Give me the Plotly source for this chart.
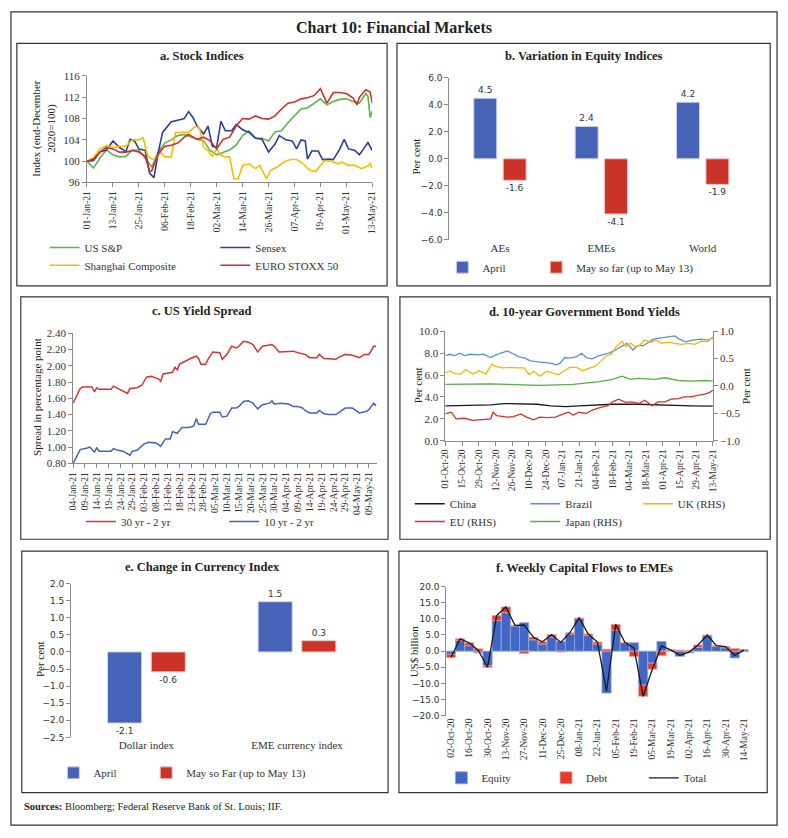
import plotly.graph_objects as go

W, H = 788, 838
SERIF = "Liberation Serif"
SANS = "DejaVu Sans"

# ---------------- data ----------------
# a. Stock Indices (end-December 2020 = 100)
sp_dates = ["2021-01-01","2021-01-04","2021-01-07","2021-01-10","2021-01-13","2021-01-16","2021-01-19","2021-01-22","2021-01-25","2021-01-28","2021-01-31","2021-02-03","2021-02-06","2021-02-09","2021-02-12","2021-02-15","2021-02-18","2021-02-21","2021-02-24","2021-02-27","2021-03-02","2021-03-05","2021-03-08","2021-03-11","2021-03-14","2021-03-17","2021-03-20","2021-03-23","2021-03-26","2021-03-29","2021-04-01","2021-04-04","2021-04-07","2021-04-10","2021-04-13","2021-04-16","2021-04-19","2021-04-22","2021-04-25","2021-04-28","2021-05-01","2021-05-04","2021-05-07","2021-05-10","2021-05-11","2021-05-12","2021-05-13"]
sp_vals = [100.0,98.7,100.6,102.1,101.2,100.8,100.9,102.1,102.1,100.4,98.9,101.8,103.4,104.0,104.8,105.0,104.5,104.1,103.8,102.0,101.2,101.7,102.1,103.0,104.8,105.7,104.3,104.3,103.8,105.5,105.7,107.2,108.6,109.8,110.0,110.9,111.7,110.6,111.2,111.6,111.7,111.2,110.9,112.7,112.2,108.2,109.4]

sx_dates = ["2021-01-01","2021-01-04","2021-01-07","2021-01-10","2021-01-13","2021-01-16","2021-01-19","2021-01-21","2021-01-23","2021-01-25","2021-01-28","2021-01-30","2021-02-01","2021-02-03","2021-02-05","2021-02-07","2021-02-09","2021-02-12","2021-02-15","2021-02-17","2021-02-19","2021-02-21","2021-02-24","2021-02-26","2021-02-28","2021-03-02","2021-03-04","2021-03-06","2021-03-09","2021-03-11","2021-03-14","2021-03-17","2021-03-20","2021-03-23","2021-03-26","2021-03-29","2021-03-31","2021-04-03","2021-04-06","2021-04-08","2021-04-10","2021-04-12","2021-04-13","2021-04-15","2021-04-18","2021-04-20","2021-04-23","2021-04-25","2021-04-28","2021-04-30","2021-05-02","2021-05-05","2021-05-07","2021-05-09","2021-05-11","2021-05-13"]
sx_vals = [100.0,100.1,101.7,102.1,103.8,102.6,101.8,104.1,103.8,102.3,102.0,97.7,96.9,101.7,105.4,106.3,107.4,107.7,108.0,109.3,108.2,106.6,105.1,106.6,102.8,102.6,107.5,105.7,105.7,106.9,105.9,105.4,104.3,104.1,101.7,103.2,104.8,104.0,103.8,102.3,104.0,103.8,100.4,101.9,101.9,100.3,100.4,100.3,102.3,104.1,102.3,102.0,101.2,102.3,103.5,102.0]

sh_dates = ["2021-01-01","2021-01-04","2021-01-07","2021-01-10","2021-01-13","2021-01-16","2021-01-19","2021-01-22","2021-01-25","2021-01-27","2021-01-29","2021-01-31","2021-02-02","2021-02-04","2021-02-06","2021-02-09","2021-02-11","2021-02-14","2021-02-17","2021-02-20","2021-02-22","2021-02-24","2021-02-26","2021-02-28","2021-03-02","2021-03-04","2021-03-06","2021-03-08","2021-03-10","2021-03-12","2021-03-14","2021-03-17","2021-03-20","2021-03-22","2021-03-25","2021-03-27","2021-03-30","2021-04-02","2021-04-05","2021-04-08","2021-04-11","2021-04-14","2021-04-17","2021-04-19","2021-04-21","2021-04-24","2021-04-27","2021-04-29","2021-05-02","2021-05-05","2021-05-08","2021-05-11","2021-05-12","2021-05-13"]
sh_vals = [100.0,100.6,102.3,102.9,102.6,102.8,102.8,104.0,104.0,104.4,101.1,100.4,100.4,101.7,100.8,100.8,105.4,105.4,105.4,106.5,106.3,102.6,102.0,100.9,102.3,101.1,100.8,100.8,96.7,96.7,99.2,99.5,98.6,99.2,96.7,98.3,98.9,99.8,100.3,100.3,99.5,98.3,98.1,99.2,100.1,100.0,99.5,99.8,99.2,99.2,98.6,99.1,99.6,98.7]

es_dates = ["2021-01-01","2021-01-04","2021-01-07","2021-01-10","2021-01-13","2021-01-16","2021-01-19","2021-01-22","2021-01-25","2021-01-28","2021-01-30","2021-01-31","2021-02-03","2021-02-06","2021-02-09","2021-02-12","2021-02-15","2021-02-17","2021-02-18","2021-02-21","2021-02-24","2021-02-27","2021-03-02","2021-03-05","2021-03-08","2021-03-11","2021-03-14","2021-03-17","2021-03-20","2021-03-23","2021-03-26","2021-03-29","2021-04-01","2021-04-04","2021-04-07","2021-04-10","2021-04-13","2021-04-16","2021-04-19","2021-04-22","2021-04-25","2021-04-28","2021-05-01","2021-05-04","2021-05-06","2021-05-07","2021-05-10","2021-05-12","2021-05-13"]
es_vals = [100.0,100.4,101.7,102.6,102.3,101.7,101.7,102.0,101.7,100.9,98.0,98.2,101.4,102.8,103.0,103.4,104.5,105.0,104.8,104.1,104.5,103.8,102.3,104.1,104.5,106.6,108.0,107.9,108.5,108.0,107.9,108.5,109.8,110.9,111.1,111.7,111.9,112.3,113.6,110.9,112.9,112.9,112.7,111.9,110.6,112.0,113.4,113.0,110.9]

# b. Variation in Equity Indices (per cent)
eq_regions = ["AEs", "EMEs", "World"]
eq_april = [4.5, 2.4, 4.2]
eq_may = [-1.6, -4.1, -1.9]

# c. US Yield Spread (percentage point)
s30_dates = ["2021-01-04","2021-01-07","2021-01-08","2021-01-12","2021-01-13","2021-01-14","2021-01-15","2021-01-20","2021-01-21","2021-01-23","2021-01-25","2021-01-27","2021-01-28","2021-01-31","2021-02-02","2021-02-04","2021-02-06","2021-02-09","2021-02-10","2021-02-11","2021-02-15","2021-02-16","2021-02-17","2021-02-18","2021-02-22","2021-02-25","2021-02-26","2021-02-27","2021-03-01","2021-03-02","2021-03-04","2021-03-07","2021-03-08","2021-03-10","2021-03-12","2021-03-14","2021-03-15","2021-03-17","2021-03-19","2021-03-21","2021-03-23","2021-03-25","2021-03-29","2021-03-30","2021-04-01","2021-04-07","2021-04-09","2021-04-12","2021-04-14","2021-04-17","2021-04-18","2021-04-20","2021-04-25","2021-04-26","2021-04-29","2021-05-02","2021-05-05","2021-05-07","2021-05-09","2021-05-11","2021-05-12"]
s30_vals = [1.54,1.72,1.74,1.74,1.68,1.73,1.71,1.71,1.75,1.72,1.70,1.66,1.72,1.73,1.76,1.86,1.87,1.84,1.81,1.90,1.92,1.98,1.95,2.02,2.08,2.12,2.09,2.02,2.02,2.08,2.17,2.16,2.08,2.14,2.24,2.22,2.24,2.30,2.29,2.26,2.17,2.24,2.26,2.24,2.17,2.18,2.16,2.14,2.10,2.10,2.14,2.09,2.08,2.10,2.14,2.13,2.10,2.14,2.14,2.24,2.24]
s10_dates = ["2021-01-04","2021-01-06","2021-01-07","2021-01-10","2021-01-11","2021-01-13","2021-01-14","2021-01-15","2021-01-20","2021-01-21","2021-01-23","2021-01-25","2021-01-27","2021-01-28","2021-01-29","2021-01-31","2021-02-03","2021-02-05","2021-02-08","2021-02-10","2021-02-12","2021-02-14","2021-02-15","2021-02-17","2021-02-19","2021-02-22","2021-02-24","2021-02-25","2021-02-26","2021-03-01","2021-03-03","2021-03-04","2021-03-07","2021-03-08","2021-03-10","2021-03-12","2021-03-14","2021-03-15","2021-03-17","2021-03-19","2021-03-21","2021-03-23","2021-03-25","2021-03-28","2021-03-29","2021-03-30","2021-04-02","2021-04-05","2021-04-07","2021-04-09","2021-04-11","2021-04-12","2021-04-14","2021-04-17","2021-04-18","2021-04-20","2021-04-22","2021-04-25","2021-04-27","2021-04-29","2021-05-02","2021-05-04","2021-05-05","2021-05-08","2021-05-09","2021-05-11","2021-05-12"]
s10_vals = [0.80,0.92,0.97,0.99,1.00,0.94,0.99,0.95,0.95,0.98,0.96,0.95,0.91,0.90,0.95,0.96,1.04,1.06,1.05,1.01,1.10,1.10,1.19,1.17,1.24,1.24,1.26,1.35,1.28,1.28,1.41,1.43,1.43,1.37,1.38,1.48,1.48,1.50,1.56,1.57,1.54,1.47,1.52,1.54,1.57,1.53,1.54,1.53,1.50,1.50,1.48,1.45,1.42,1.42,1.45,1.41,1.40,1.40,1.44,1.48,1.48,1.44,1.42,1.44,1.46,1.54,1.51]

# d. 10-year Government Bond Yields (per cent)
cn_dates = ["2020-10-01","2020-10-25","2020-11-08","2020-11-19","2020-12-17","2020-12-28","2021-01-10","2021-01-21","2021-02-04","2021-02-18","2021-03-12","2021-03-26","2021-04-09","2021-04-25","2021-05-13"]
cn_vals = [3.18,3.24,3.27,3.39,3.33,3.18,3.12,3.18,3.24,3.33,3.33,3.27,3.21,3.18,3.15]
br_dates = ["2020-10-01","2020-10-05","2020-10-09","2020-10-13","2020-10-17","2020-10-22","2020-10-28","2020-11-02","2020-11-08","2020-11-11","2020-11-16","2020-11-22","2020-11-26","2020-12-01","2020-12-07","2020-12-11","2020-12-19","2020-12-28","2021-01-02","2021-01-05","2021-01-09","2021-01-13","2021-01-19","2021-01-23","2021-01-27","2021-02-01","2021-02-06","2021-02-11","2021-02-15","2021-02-19","2021-02-25","2021-03-02","2021-03-07","2021-03-11","2021-03-16","2021-03-20","2021-03-24","2021-03-31","2021-04-06","2021-04-11","2021-04-15","2021-04-20","2021-04-26","2021-05-03","2021-05-09","2021-05-13"]
br_vals = [7.78,7.9,7.78,7.99,7.78,7.9,7.85,7.9,7.6,7.78,7.99,8.2,7.99,7.69,7.54,7.3,7.18,7.09,6.94,7.09,7.6,7.55,7.69,7.99,7.6,7.48,7.75,7.9,8.0,8.2,8.6,8.89,8.29,8.68,8.68,8.98,9.28,9.4,9.49,9.58,9.28,9.04,9.19,9.28,9.19,9.4]
uk_dates = ["2020-10-01","2020-10-05","2020-10-10","2020-10-14","2020-10-18","2020-10-24","2020-10-29","2020-11-04","2020-11-09","2020-11-12","2020-11-18","2020-11-24","2020-11-30","2020-12-06","2020-12-10","2020-12-14","2020-12-19","2020-12-25","2021-01-01","2021-01-04","2021-01-08","2021-01-13","2021-01-19","2021-01-24","2021-01-30","2021-02-04","2021-02-08","2021-02-12","2021-02-17","2021-02-21","2021-02-26","2021-03-01","2021-03-05","2021-03-09","2021-03-13","2021-03-17","2021-03-22","2021-03-26","2021-03-31","2021-04-06","2021-04-11","2021-04-17","2021-04-22","2021-04-28","2021-05-03","2021-05-09","2021-05-13"]
uk_vals = [0.24,0.27,0.22,0.22,0.30,0.22,0.28,0.22,0.40,0.36,0.33,0.34,0.33,0.33,0.21,0.27,0.18,0.27,0.22,0.21,0.27,0.34,0.34,0.28,0.33,0.36,0.45,0.54,0.58,0.72,0.82,0.72,0.78,0.72,0.75,0.84,0.80,0.84,0.78,0.80,0.78,0.76,0.78,0.76,0.82,0.81,0.90]
eu_dates = ["2020-10-01","2020-10-06","2020-10-10","2020-10-17","2020-10-24","2020-11-01","2020-11-08","2020-11-10","2020-11-13","2020-11-22","2020-11-27","2020-12-03","2020-12-08","2020-12-14","2020-12-19","2020-12-25","2021-01-01","2021-01-08","2021-01-12","2021-01-16","2021-01-21","2021-01-27","2021-02-01","2021-02-08","2021-02-14","2021-02-18","2021-02-23","2021-03-01","2021-03-06","2021-03-12","2021-03-17","2021-03-23","2021-03-28","2021-04-03","2021-04-08","2021-04-14","2021-04-19","2021-04-25","2021-04-30","2021-05-06","2021-05-10","2021-05-13"]
eu_vals = [-0.51,-0.48,-0.60,-0.59,-0.63,-0.62,-0.60,-0.48,-0.54,-0.57,-0.56,-0.51,-0.57,-0.62,-0.57,-0.58,-0.57,-0.51,-0.48,-0.53,-0.48,-0.50,-0.44,-0.39,-0.36,-0.29,-0.24,-0.30,-0.29,-0.32,-0.26,-0.36,-0.29,-0.29,-0.24,-0.23,-0.20,-0.20,-0.17,-0.15,-0.12,-0.08]
jp_dates = ["2020-10-01","2020-10-25","2020-11-08","2020-11-22","2020-12-19","2021-01-16","2021-02-07","2021-02-18","2021-02-26","2021-03-05","2021-03-12","2021-03-26","2021-04-03","2021-04-14","2021-04-25","2021-05-06","2021-05-13"]
jp_vals = [0.03,0.04,0.04,0.03,0.01,0.03,0.08,0.12,0.18,0.12,0.14,0.12,0.15,0.10,0.09,0.10,0.09]

# e. Change in Currency Index (per cent)
cur_names = ["Dollar index", "EME currency index"]
cur_april = [-2.08, 1.47]
cur_may = [-0.58, 0.33]

# f. Weekly Capital Flows to EMEs (US$ billion)
weeks = ["02-Oct-20","09-Oct-20","16-Oct-20","23-Oct-20","30-Oct-20","06-Nov-20","13-Nov-20","20-Nov-20","27-Nov-20","04-Dec-20","11-Dec-20","18-Dec-20","25-Dec-20","01-Jan-21","08-Jan-21","15-Jan-21","22-Jan-21","29-Jan-21","05-Feb-21","12-Feb-21","19-Feb-21","26-Feb-21","05-Mar-21","12-Mar-21","19-Mar-21","26-Mar-21","02-Apr-21","09-Apr-21","16-Apr-21","23-Apr-21","30-Apr-21","07-May-21","14-May-21"]
equity = [-1.0,3.3,1.7,-0.5,-4.5,9.5,11.9,7.8,8.8,3.5,2.2,4.3,3.0,5.3,10.1,4.8,2.2,-13.0,6.5,2.6,2.6,-10.5,-3.7,3.0,0.3,-1.6,-0.5,1.2,4.8,1.5,1.0,-2.1,0.5]
debt = [-1.0,0.5,0.9,0.7,-0.5,1.5,1.8,0.2,-0.7,0.8,0.7,0.8,-0.3,0.4,0.2,0.5,0.6,0.6,1.8,0.1,-1.7,-3.5,-1.9,-1.4,0.1,0.3,0.2,0.7,0.2,0.2,0.4,0.8,-0.2]

# ---------------- colours ----------------
C_BLUE_BAR, C_RED_BAR = "#4663B8", "#CB3329"
C_EQ, C_DEBT = "#4266C4", "#E8392F"
AX = "#8a8a8a"
TXT = "#333333"


def fx(p):
    return p / W


def fy(p):
    return 1 - p / H


def zero_pos(dom, rng):
    return dom[0] + (0 - rng[0]) / (rng[1] - rng[0]) * (dom[1] - dom[0])


def ax(**kw):
    d = dict(showgrid=False, zeroline=False, showline=True, linecolor=AX, linewidth=1,
             ticks="outside", tickcolor=AX, ticklen=4,
             tickfont=dict(family=SERIF, size=11, color=TXT))
    d.update(kw)
    return d


# legend text anchor points (pixel x where text starts, pixel y of row centre)
legend_pos = []
fig = go.Figure()


def add(trace, text_x, row_y):
    legend_pos.append((text_x, row_y))
    n = len(legend_pos)
    trace.legend = "legend" if n == 1 else "legend%d" % n
    fig.add_trace(trace)


# ---- a
add(go.Scatter(x=sp_dates, y=sp_vals, name="US S&P", mode="lines", line=dict(color="#5CB547", width=1.6),
               xaxis="x", yaxis="y"), 90, 245)
add(go.Scatter(x=sx_dates, y=sx_vals, name="Sensex", mode="lines", line=dict(color="#2B3F96", width=1.6),
               xaxis="x", yaxis="y"), 263, 245)
add(go.Scatter(x=sh_dates, y=sh_vals, name="Shanghai Composite", mode="lines", line=dict(color="#F6BE00", width=1.6),
               xaxis="x", yaxis="y"), 90, 263)
add(go.Scatter(x=es_dates, y=es_vals, name="EURO STOXX 50", mode="lines", line=dict(color="#D42B2B", width=1.6),
               xaxis="x", yaxis="y"), 263, 263)

# ---- b
bar_txt = dict(family=SANS, size=9, color=TXT)
add(go.Bar(x=eq_regions, y=eq_april, name="April", marker=dict(color=C_BLUE_BAR, line=dict(color="#c9d2ee", width=1)),
           texttemplate="%{y:.1f}", textposition="outside", cliponaxis=False, textfont=bar_txt,
           xaxis="x2", yaxis="y2"), 493, 265)
add(go.Bar(x=eq_regions, y=eq_may, name="May so far (up to May 13)", marker=dict(color=C_RED_BAR, line=dict(color="#efc6c2", width=1)),
           texttemplate="%{y:.1f}", textposition="outside", cliponaxis=False, textfont=bar_txt,
           xaxis="x2", yaxis="y2"), 588, 265)

# ---- c
add(go.Scatter(x=s30_dates, y=s30_vals, name="30 yr - 2 yr", mode="lines", line=dict(color="#D33535", width=1.5),
               xaxis="x3", yaxis="y3"), 127, 523)
add(go.Scatter(x=s10_dates, y=s10_vals, name="10 yr - 2 yr", mode="lines", line=dict(color="#4B5FBF", width=1.5),
               xaxis="x3", yaxis="y3"), 272, 523)

# ---- d
add(go.Scatter(x=cn_dates, y=cn_vals, name="China", mode="lines", line=dict(color="#1a1a1a", width=1.3),
               xaxis="x4", yaxis="y4"), 460, 505)
add(go.Scatter(x=br_dates, y=br_vals, name="Brazil", mode="lines", line=dict(color="#5A8FD8", width=1.3),
               xaxis="x4", yaxis="y4"), 577, 505)
add(go.Scatter(x=uk_dates, y=uk_vals, name="UK (RHS)", mode="lines", line=dict(color="#F7B500", width=1.3),
               xaxis="x4", yaxis="y5"), 691, 505)
add(go.Scatter(x=eu_dates, y=eu_vals, name="EU (RHS)", mode="lines", line=dict(color="#D8302A", width=1.3),
               xaxis="x4", yaxis="y5"), 460, 523)
add(go.Scatter(x=jp_dates, y=jp_vals, name="Japan (RHS)", mode="lines", line=dict(color="#55AF4A", width=1.3),
               xaxis="x4", yaxis="y5"), 577, 523)

# ---- e
add(go.Bar(x=cur_names, y=cur_april, name="April", marker=dict(color=C_BLUE_BAR, line=dict(color="#c9d2ee", width=1)),
           texttemplate="%{y:.1f}", textposition="outside", cliponaxis=False, textfont=bar_txt,
           xaxis="x5", yaxis="y6"), 99, 778)
add(go.Bar(x=cur_names, y=cur_may, name="May so Far (up to May 13)", marker=dict(color=C_RED_BAR, line=dict(color="#efc6c2", width=1)),
           texttemplate="%{y:.1f}", textposition="outside", cliponaxis=False, textfont=bar_txt,
           xaxis="x5", yaxis="y6"), 193, 778)

# ---- f  (relative stacking: debt starts on top of equity when both share a sign)
debt_base = [e if e * d > 0 else 0 for e, d in zip(equity, debt)]
total = [round(e + d, 2) for e, d in zip(equity, debt)]
add(go.Bar(x=weeks, y=equity, name="Equity", width=1, offsetgroup="f",
           marker=dict(color=C_EQ, line=dict(color="#8fa6e0", width=0.8)),
           xaxis="x6", yaxis="y7"), 492, 783)
add(go.Bar(x=weeks, y=debt, base=debt_base, name="Debt", width=1, offsetgroup="f",
           marker=dict(color=C_DEBT, line=dict(color="#f2a39d", width=0.8)),
           xaxis="x6", yaxis="y7"), 598, 783)
add(go.Scatter(x=weeks, y=total, name="Total", mode="lines", line=dict(color="#1a1a1a", width=1.3),
               xaxis="x6", yaxis="y7"), 697, 783)

# ---------------- axes ----------------
DAY = 86400000
dom = {
    "a": ([fx(83), fx(372)], [fy(179), fy(71)]),
    "b": ([fx(450), fx(758)], [fy(237), fy(73)]),
    "c": ([fx(69), fx(377)], [fy(464), fy(332)]),
    "d": ([fx(446), fx(717)], [fy(441), fy(330)]),
    "e": ([fx(67), fx(372)], [fy(742), fy(586)]),
    "f": ([fx(447), fx(753)], [fy(720), fy(589)]),
}
rb, re_, rf = [-6, 6], [-2.5, 2.0], [-20, 20]
sans_ticks = dict(family=SANS, size=9, color=TXT)
date_ticks = dict(family=SERIF, size=9.5, color=TXT)

layout = dict(
    width=W, height=H, autosize=False, margin=dict(l=0, r=0, t=0, b=0),
    paper_bgcolor="white", plot_bgcolor="white", showlegend=True,
    barmode="group", bargap=0.42, bargroupgap=0.22,
    xaxis=ax(domain=dom["a"][0], anchor="y", type="date", range=["2021-01-01", "2021-05-13"],
             tick0="2021-01-01", dtick=12 * DAY, tickformat="%d-%b-%y", tickangle=-90, tickfont=date_ticks),
    yaxis=ax(domain=dom["a"][1], anchor="x", range=[96, 116], dtick=4),
    xaxis2=ax(domain=dom["b"][0], anchor="y2", type="category", showline=False, ticks=""),
    yaxis2=ax(domain=dom["b"][1], anchor="x2", range=rb, dtick=2, tickformat=".1f", tickfont=sans_ticks),
    xaxis3=ax(domain=dom["c"][0], anchor="y3", type="date", range=["2021-01-04", "2021-05-12 12:00"],
              tick0="2021-01-04", dtick=5 * DAY, tickformat="%d-%b-%y", tickangle=-90, tickfont=date_ticks),
    yaxis3=ax(domain=dom["c"][1], anchor="x3", range=[0.8, 2.4], dtick=0.2, tickformat=".2f"),
    xaxis4=ax(domain=dom["d"][0], anchor="y4", type="date", range=["2020-10-01", "2021-05-13"],
              tick0="2020-10-01", dtick=14 * DAY, tickformat="%d-%b-%y", tickangle=-90, tickfont=date_ticks),
    yaxis4=ax(domain=dom["d"][1], anchor="x4", range=[0, 10], dtick=2, tickformat=".1f"),
    yaxis5=ax(overlaying="y4", anchor="x4", side="right", range=[-1, 1], dtick=0.5, tickformat=".1f"),
    xaxis5=ax(domain=dom["e"][0], anchor="y6", type="category", showline=False, ticks=""),
    yaxis6=ax(domain=dom["e"][1], anchor="x5", range=re_, dtick=0.5, tickformat=".1f", tickfont=sans_ticks),
    xaxis6=ax(domain=dom["f"][0], anchor="y7", type="category", showline=False, ticks="",
              range=[-0.5, len(weeks) - 0.5], tickvals=weeks[::2], tickangle=-90, tickfont=date_ticks),
    yaxis7=ax(domain=dom["f"][1], anchor="x6", range=rf, dtick=5, tickformat=".1f", tickfont=sans_ticks),
    # zero-line axes carrying the tick marks of the bar panels
    xaxis7=ax(overlaying="x2", anchor="free", position=zero_pos(dom["b"][1], rb), range=[-0.5, len(eq_regions) - 0.5],
              tickvals=[i + 0.5 for i in range(len(eq_regions))], showticklabels=False),
    xaxis8=ax(overlaying="x5", anchor="free", position=zero_pos(dom["e"][1], re_), range=[-0.5, len(cur_names) - 0.5],
              tickvals=[i + 0.5 for i in range(len(cur_names))], showticklabels=False),
    xaxis9=ax(overlaying="x6", anchor="free", position=zero_pos(dom["f"][1], rf), range=[-0.5, len(weeks) - 0.5],
              tickvals=[i + 0.5 for i in range(len(weeks))], showticklabels=False, ticklen=3),
)

TEXT_OFFSET = 50  # distance from legend origin to the start of its text
leg_font = dict(family=SERIF, size=11, color=TXT)
for i, (tx, ty) in enumerate(legend_pos, start=1):
    key = "legend" if i == 1 else "legend%d" % i
    layout[key] = dict(x=fx(tx - TEXT_OFFSET), y=fy(ty), xanchor="left", yanchor="middle", orientation="h",
                       font=leg_font, bgcolor="rgba(0,0,0,0)", borderwidth=0, itemwidth=30)
fig.update_layout(**layout)

# ---------------- frames ----------------
shapes = [dict(type="rect", xref="paper", yref="paper", x0=fx(6), x1=fx(782), y0=fy(831), y1=fy(6),
               line=dict(color="#333", width=1.2))]
for (x0, y0, x1, y1) in [(12, 38, 387, 284), (397, 38, 775, 284), (16, 295, 388, 541),
                         (400, 295, 775, 541), (17, 553, 388, 798), (399, 553, 772, 798)]:
    shapes.append(dict(type="rect", xref="paper", yref="paper", x0=fx(x0), x1=fx(x1), y0=fy(y1), y1=fy(y0),
                       line=dict(color="#333", width=1.2)))
fig.update_layout(shapes=shapes)

# ---------------- text ----------------
ann = []


def text(x, y, s, size=12, bold=False, angle=0, xanchor="center", family=SERIF):
    ann.append(dict(x=fx(x), y=fy(y), xref="paper", yref="paper", text=("<b>%s</b>" % s) if bold else s,
                    showarrow=False, xanchor=xanchor, yanchor="middle", textangle=angle,
                    font=dict(family=family, size=size, color="#222")))


text(394, 22, "Chart 10: Financial Markets", size=16, bold=True)
text(200, 51, "a. Stock Indices", size=12.5, bold=True)
text(586, 51, "b. Variation in Equity Indices", size=12.5, bold=True)
text(200, 309, "c. US Yield Spread", size=12.5, bold=True)
text(587, 310, "d. 10-year Government Bond Yields", size=12.5, bold=True)
text(200, 569, "e. Change in Currency Index", size=12.5, bold=True)
text(587, 570, "f. Weekly Capital Flows to EMEs", size=12.5, bold=True)

text(39, 124, "Index (end-December<br>2020=100)", size=11, angle=-90)
text(416, 153, "Per cent", size=11, angle=-90)
text(33, 397, "Spread in percentage point", size=11, angle=-90)
text(419, 385, "Per cent", size=11, angle=-90)
text(751, 385, "Per cent", size=11, angle=-90)
text(35, 663, "Per cent", size=11, angle=-90)
text(414, 655, "US$ billion", size=11, angle=-90)
text(17, 812, "<b>Sources:</b> Bloomberg; Federal Reserve Bank of St. Louis; IIF.", size=10.5, xanchor="left")
fig.update_layout(annotations=ann)

fig.write_html("out.html", config={"displayModeBar": False},
               post_script="document.body.style.margin='0px';document.body.style.overflow='hidden';")
